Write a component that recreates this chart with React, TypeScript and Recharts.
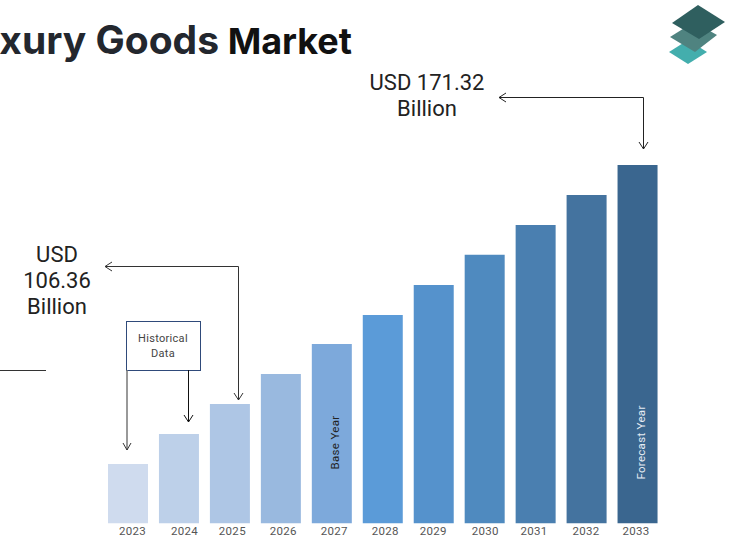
import { BarChart, Bar, XAxis, YAxis, Cell, LabelList } from 'recharts';

const years = ['2023', '2024', '2025', '2026', '2027', '2028', '2029', '2030', '2031', '2032', '2033'];
// USD billion; the value axis starts above zero, so it stays hidden
const marketSize = [90.05, 98.2, 106.36, 114.5, 122.67, 130.55, 138.7, 146.9, 155.0, 163.2, 171.32];
const barColors = ['#CFDBEE', '#BDD0E9', '#AEC6E5', '#99B9DF', '#7DA9DB', '#5B9BD8', '#5592CC', '#4F8ABF', '#4A7FB0', '#44739F', '#3A668F'];
const barNotes = ['', '', '', '', 'Base Year', '', '', '', '', '', 'Forecast Year'];
const tickNudge = [4, 5, 2, 2, 2, 2, -1, 0, -2, -1, -2];

const valueFloor = 73.88;
const valueCeil = 171.32;

const chartData = years.map((year, i) => ({ year, value: marketSize[i], note: barNotes[i] }));

const YearTick = ({ x, y, payload, index }: any) => (
  <text x={x + tickNudge[index]} y={y + 3.5} textAnchor="middle" fontFamily="Roboto" fontSize={11.5} letterSpacing={0.3} fill="#555">
    {payload.value}
  </text>
);

// rotated note near the foot of a bar
const BarNote = ({ x, y, width, height, value }: any) => {
  if (!value) return null;
  const cx = x + width / 2 + 7;
  const cy = y + height - 81;
  return (
    <text
      transform={`translate(${cx},${cy}) rotate(-90)`}
      textAnchor="middle"
      fontFamily="Roboto"
      fontSize={11.5}
      letterSpacing={0.3}
      fill={value === 'Base Year' ? '#222' : '#E6ECF3'}
    >
      {value}
    </text>
  );
};

const Elbow = ({ points, color = '#222', width = 1 }: { points: string; color?: string; width?: number }) => (
  <polyline points={points} fill="none" stroke={color} strokeWidth={width} />
);

export default function App() {
  return (
    <div style={{ position: 'absolute', left: 0, top: 0, width: 733, height: 536, overflow: 'hidden', background: '#fff' }}>
      <BarChart
        width={733}
        height={536}
        data={chartData}
        margin={{ top: 165, right: 69.5, bottom: 0, left: 103 }}
      >
        <XAxis dataKey="year" height={12.5} axisLine={false} tickLine={false} tick={YearTick} interval={0} />
        <YAxis hide domain={[valueFloor, valueCeil]} allowDataOverflow />
        <Bar dataKey="value" barSize={40} isAnimationActive={false}>
          {chartData.map((d, i) => (
            <Cell key={d.year} fill={barColors[i]} />
          ))}
          <LabelList dataKey="note" content={BarNote} />
        </Bar>

        {/* title runs off the left edge */}
        <text x={219} y={54} textAnchor="end" fontFamily="Inter" fontWeight={700} fontSize={39} fill="#23272E">
          Luxury Goods
        </text>
        <text x={352} y={54} textAnchor="end" fontFamily="Inter" fontWeight={700} fontSize={36} fill="#111">
          Market
        </text>

        {/* logo */}
        <polygon points="669,52 688,40 707,52 688,64" fill="#43AEAD" />
        <polygon points="670,37 694,22 717,35 695,52" fill="#4F8380" />
        <polygon points="672,23 698,5 725,22 699,39" fill="#2F5F5F" />

        {/* 2033 callout */}
        <g fontFamily="Roboto" fontSize={22} fill="#222" textAnchor="middle">
          <text x={427} y={90}>USD 171.32</text>
          <text x={427} y={116}>Billion</text>
        </g>
        <Elbow points="499,97.5 643.5,97.5 643.5,149" />
        <Elbow points="506,93 499,97.5 506,102" />
        <Elbow points="639,142 643.5,149 648,142" />

        {/* 2025 callout */}
        <g fontFamily="Roboto" fontSize={22} fill="#222" textAnchor="middle">
          <text x={57} y={262}>USD</text>
          <text x={57} y={288}>106.36</text>
          <text x={57} y={314}>Billion</text>
        </g>
        <Elbow points="105,266.5 238.5,266.5 238.5,400" color="#333" />
        <Elbow points="112,262 105,266.5 112,271" color="#333" />
        <Elbow points="234,393 238.5,400 243,393" color="#333" />

        <line x1={0} y1={370.5} x2={46} y2={370.5} stroke="#333" />

        {/* historical data box */}
        <rect x={126.5} y={321.5} width={74} height={49} fill="#fff" stroke="#2F4A7A" />
        <g fontFamily="Roboto" fontSize={11} fill="#444" textAnchor="middle" letterSpacing={0.3}>
          <text x={163} y={342}>Historical</text>
          <text x={163} y={357}>Data</text>
        </g>
        <Elbow points="127,370 127,450" color="#777" width={1.5} />
        <Elbow points="123,443 127,450 131,443" color="#333" />
        <Elbow points="188.5,370 188.5,422" color="#111" />
        <Elbow points="184,415 188.5,422 193,415" color="#111" />
      </BarChart>
    </div>
  );
}
